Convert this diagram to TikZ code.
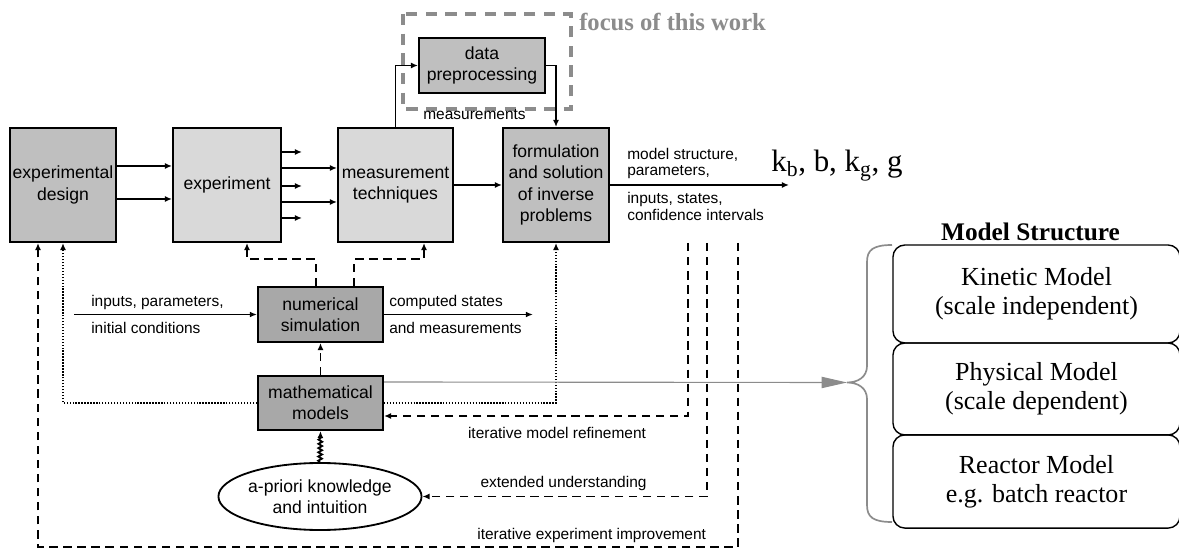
\documentclass[tikz,border=0pt]{standalone}
\usepackage{fontspec}
\setmainfont{Liberation Sans}
\newfontfamily\serifface{Liberation Serif}
\usetikzlibrary{shapes,arrows.meta,positioning,calc,decorations.pathmorphing}

\definecolor{filldark}{gray}{0.66}
\definecolor{fillmid}{gray}{0.75}
\definecolor{filllight}{gray}{0.85}
\definecolor{focusgray}{gray}{0.55}
\definecolor{bracegray}{gray}{0.55}

\tikzset{
  blk/.style={draw, line width=1.4pt, align=center, inner sep=1pt, font=\fontsize{12.5}{15}\selectfont},
  arr/.style={line width=1.3pt, -{Latex[length=5pt,width=4.2pt]}},
  thinarr/.style={line width=1pt, -{Latex[length=5pt,width=4pt]}},
  dsh/.style={line width=1.3pt, dash pattern=on 6pt off 4pt},
  dot/.style={line width=1.3pt, dash pattern=on 1pt off 1.1pt},
  squig/.style={line width=1pt, decorate, decoration={snake, amplitude=1.3pt, segment length=3pt, post length=5pt}},
  lbl/.style={inner sep=0pt, align=left, font=\fontsize{11}{11.9}\selectfont},
  looplbl/.style={inner sep=0pt, font=\fontsize{11}{13}\selectfont},
  mbox/.style={draw, line width=1pt, rounded corners=0.3cm, minimum width=7.175cm, align=center, font=\serifface\fontsize{18.5}{20.5}\selectfont}
}

\begin{document}
\begin{tikzpicture}[x=0.025cm,y=-0.025cm]
    \useasboundingbox (0,0) rectangle (1179,550);

    % Main chain
    \node[blk,fill=fillmid,minimum width=2.65cm,minimum height=2.85cm] (design) at (63,185) {experimental\\design};
    \node[blk,fill=filllight,minimum width=2.7cm,minimum height=2.85cm] (expt) at (227,185) {experiment};
    \node[blk,fill=filllight,minimum width=2.875cm,minimum height=2.85cm] (meas) at (395.5,185) {measurement\\techniques};
    \node[blk,fill=fillmid,minimum width=2.65cm,minimum height=2.85cm] (form) at (556,185) {formulation\\and solution\\of inverse\\problems};
    \node[blk,fill=fillmid,minimum width=3.15cm,minimum height=1.375cm] (prep) at (482,65.5) {data\\preprocessing};

    % Focus frame
    \draw[focusgray,line width=2.2pt,dash pattern=on 8pt off 6pt] (403,14) rectangle (571,109);
    \node[anchor=west,inner sep=0pt,text=focusgray,font=\serifface\bfseries\fontsize{17.5}{20}\selectfont] (focuslbl) at (579,22) {focus of this work};

    % Simulation part
    \node[blk,fill=filldark,minimum width=3.125cm,minimum height=1.375cm] (numsim) at (320.5,314.5) {numerical\\simulation};
    \node[blk,fill=filldark,minimum width=3.125cm,minimum height=1.35cm] (mathmod) at (320.5,403) {mathematical\\models};
    \node[ellipse,draw,line width=1.3pt,minimum width=4.2cm,minimum height=1.675cm,inner sep=0pt,align=center,font=\fontsize{12.5}{15}\selectfont] (know) at (320,496.5) {a-priori knowledge\\and intuition};

    % Arrows of the chain
    \draw[arr] (design.east |- 0,166) -- (expt.west |- 0,166);
    \draw[arr] (design.east |- 0,199) -- (expt.west |- 0,199);
    \foreach \y in {152,186,218}
        \draw[arr] (expt.east |- 0,\y) -- ++(20,0);
    \foreach \y in {168,202}
        \draw[arr] (expt.east |- 0,\y) -- (meas.west |- 0,\y);
    \draw[arr] (meas.east) -- (form.west);
    \draw[arr] (meas.north) |- (prep.west);
    \draw[arr] (prep.east) -| (form.north);
    \node[lbl] (measlbl) at (474.5,115) {measurements};

    % Results
    \coordinate (kend) at (789,185);
    \draw[arr] (form.east) -- (kend);
    \node[lbl,anchor=west] (outtop) at (627,163.5) {model structure,\\parameters,};
    \node[lbl,anchor=west] (outbot) at (627,206.5) {inputs, states,\\confidence intervals};
    \node[anchor=base west,inner sep=0pt,font=\serifface\fontsize{22}{24}\selectfont] (kpar) at (771,172) {k\textsubscript{b}, b, k\textsubscript{g}, g};

    % Simulation in and out
    \coordinate (inp) at (74,314.5);
    \coordinate (outc) at (533,314.5);
    \draw[thinarr] (inp) -- (numsim.west);
    \draw[thinarr] (numsim.east) -- (outc);
    \node[lbl,anchor=west] (inlbl) at (91,303) {inputs, parameters,};
    \node[lbl,anchor=west] (inlblb) at (91,328) {initial conditions};
    \node[lbl,anchor=west] (cslbl) at (389,303) {computed states};
    \node[lbl,anchor=west] (cslblb) at (389,328) {and measurements};

    % Simulation feeds experiment and measurement
    \draw[dsh,arr] (numsim.north -| 316,0) -- ++(0,-27) -| (expt.south -| 247,0);
    \draw[dsh,arr] (numsim.north -| 354,0) -- ++(0,-27) -| (meas.south -| 424,0);
    \draw[dsh,arr] (mathmod.north) -- (numsim.south);
    \draw[squig,arr] (know.north) -- (mathmod.south);

    % Models feed design and inverse problems
    \draw[dot,arr] (mathmod.west) -| (design.south);
    \draw[dot,arr] (mathmod.east) -| (form.south);

    % Feedback loops
    \coordinate (r1) at (688,243);
    \coordinate (r2) at (707,243);
    \coordinate (r3) at (738,243);
    \coordinate (bl) at (38,547);
    \draw[dsh,arr] (r1) |- (mathmod.east |- 0,416);
    \draw[dsh,arr] (r2) |- (know.east);
    \draw[dsh,arr] (r3) |- (bl) -- (design.south -| bl);
    \node[looplbl] (refinelbl) at (557,433) {iterative model refinement};
    \node[looplbl] (extlbl) at (563.5,484) {extended understanding};
    \node[looplbl] (improvelbl) at (591.7,536) {iterative experiment improvement};

    % Model structure
    \node[inner sep=0pt,font=\serifface\bfseries\fontsize{18}{20}\selectfont] (mshead) at (1030.5,231.7) {Model Structure};
    \node[mbox,minimum height=2.45cm] (kinetic) at (1036.5,294) {Kinetic Model\\(scale independent)};
    \node[mbox,minimum height=2.3cm] (physical) at (1036.5,389) {Physical Model\\(scale dependent)};
    \node[mbox,minimum height=2.33cm] (reactor) at (1036.5,481.5) {Reactor Model\\e.g. batch reactor};

    % Brace and link
    \draw[bracegray,line width=1.2pt] (892,245) .. controls (873,245) and (867,250) .. (867,262) -- (867,366)
        .. controls (867,377) and (858,382.5) .. (847,382.5) .. controls (858,382.5) and (867,388) .. (867,399)
        -- (867,505) .. controls (867,517) and (873,522) .. (892,522);
    \coordinate (bracetip) at (847,382.5);
    \draw[bracegray,line width=0.8pt,-{Triangle[length=18pt,width=8pt]}] (mathmod.east |- 0,382) -- (bracetip);
\end{tikzpicture}
\end{document}
